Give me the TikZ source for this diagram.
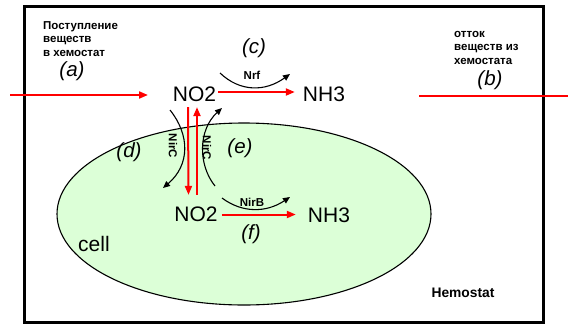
\documentclass[tikz,border=0pt]{standalone}
\usepackage{fontspec}
\setmainfont{Liberation Sans}
\usetikzlibrary{arrows.meta,calc}
\definecolor{cellgreen}{RGB}{220,255,215}
\definecolor{flowred}{RGB}{255,0,0}
\begin{document}
\begin{tikzpicture}[x=1pt,y=-1pt,
  big/.style={font=\fontsize{21}{24}\selectfont, inner sep=0pt},
  lab/.style={font=\itshape\fontsize{20.5}{24}\selectfont, inner sep=0pt},
  note/.style={font=\bfseries\fontsize{11.5}{13.5}\selectfont, inner sep=0pt, align=left, anchor=north west},
  enz/.style={font=\bfseries\fontsize{11.5}{13}\selectfont, inner sep=0pt},
  flow/.style={draw=flowred, line width=2pt, -{Triangle[length=9pt,width=7pt]}},
  react/.style={draw=black, line width=1.1pt, -{Triangle[length=7pt,width=6pt]}}
]
\useasboundingbox (0,0) rectangle (568,325);
\draw[line width=3pt] (24,6) rectangle (543,322);
\draw[fill=cellgreen, line width=1.1pt] (244,214) ellipse [x radius=187pt, y radius=91pt];

\node[big] (n1) at (194.5,94.5) {NO2};
\node[big] (h1) at (324,94) {NH3};
\node[big] (n2) at (196,214.5) {NO2};
\node[big] (h2) at (329,215) {NH3};

\node[lab] (la) at (72,71) {(a)};
\node[lab] (lb) at (490,80) {(b)};
\node[lab] (lc) at (254,48) {(c)};
\node[lab] (ld) at (129,152) {(d)};
\node[lab] (le) at (240,148) {(e)};
\node[lab] (lf) at (251,234) {(f)};
\node[big] (cell) at (94,244) {cell};
\node[font=\bfseries\fontsize{13.8}{16}\selectfont, inner sep=0pt] (hemo) at (463,293) {Hemostat};

\node[note] (inn) at (43,21) {Поступление\\веществ\\в хемостат};
\node[note] (outn) at (454,31) {отток\\веществ из\\хемостата};

\node[enz] (nrf) at (252,75) {Nrf};
\node[enz] (nirb) at (252,202) {NirB};
\node[enz, rotate=-90] (nirc1) at (173,146) {NirC};
\node[enz, rotate=-90] (nirc2) at (207,148) {NirC};

\coordinate (nrfA) at (220,73);
\coordinate (nrfB) at (290,74);
\coordinate (nirbA) at (222,198);
\coordinate (nirbB) at (290,197);
\coordinate (ncA) at (170,110);
\coordinate (ncB) at (163,188);
\coordinate (ncC) at (215,186);
\coordinate (ncD) at (222,108);
\draw[react] (nrfA) .. controls (240,92) and (265,92) .. (nrfB);
\draw[react] (nirbA) .. controls (242,213) and (266,213) .. (nirbB);
\draw[react] (ncA) .. controls (190,135) and (190,165) .. (ncB);
\draw[react] (ncC) .. controls (198,165) and (198,130) .. (ncD);

\coordinate (inA) at (10,95);
\coordinate (inB) at (148,95);
\coordinate (outA) at (419,96);
\coordinate (outB) at (568,96);
\draw[flow] (inA) -- (inB);
\draw[draw=flowred, line width=2pt] (outA) -- (outB);
\draw[flow, shorten <=2pt, shorten >=8pt] ([yshift=2.5pt]n1.east) -- ([yshift=2.5pt]n1.east -| h1.west);
\draw[flow, shorten <=4pt, shorten >=12pt] (n2.east) -- (n2.east -| h2.west);
\draw[flow] ($(n1.south)+(-6.5,5)$) -- ($(n2.north)+(-7.5,-12)$);
\draw[flow] ($(n2.north)+(1,-12)$) -- ($(n1.south)+(2.5,5)$);
\end{tikzpicture}
\end{document}
